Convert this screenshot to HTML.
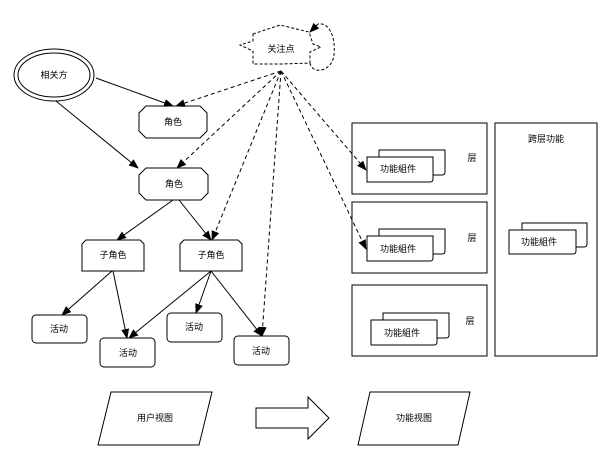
<!DOCTYPE html>
<html><head><meta charset="utf-8"><style>
html,body{margin:0;padding:0;background:#fff;}
svg{display:block;font-family:"Liberation Sans","Noto Sans CJK SC",sans-serif;}
text{font-size:9px;text-anchor:middle;dominant-baseline:central;fill:#000;}
</style></head><body>
<svg width="610" height="461" viewBox="0 0 610 461">
<defs>
<marker id="a" markerWidth="10" markerHeight="8" refX="9" refY="4" orient="auto" markerUnits="userSpaceOnUse"><path d="M0,0 L10,4 L0,8 z" fill="#000"/></marker>
</defs>
<g fill="#fff" stroke="#000" stroke-width="1">
<!-- star -->
<path d="M253,34 L280,25 L309,32 L313,44 L321,47 L310,52 L310,63 L282,64 L253,64 L253,51 L240,45 L253,41 Z" stroke-dasharray="3,2"/>
<path d="M310,63 C312,75 332,72 334,55 C336,35 328,22 318,24" fill="none" stroke-dasharray="3,2"/>
<path d="M318,24 L310,32" fill="none" marker-end="url(#a)"/>
<!-- ellipse -->
<ellipse cx="54" cy="75" rx="40" ry="26"/>
<ellipse cx="54" cy="75" rx="36" ry="22"/>
<!-- octagons -->
<path d="M146,106 L200,106 L207,113 L207,131 L200,138 L146,138 L139,131 L139,113 Z"/>
<path d="M146,168 L201,168 L208,175 L208,193 L201,200 L146,200 L139,193 L139,175 Z"/>
<!-- sub roles -->
<path d="M86,240 L140,240 L144,244 L144,271 L82,271 L82,244 Z"/>
<path d="M184,240 L238,240 L242,244 L242,271 L180,271 L180,244 Z"/>
<!-- activities -->
<rect x="32" y="315" width="55" height="28" rx="4"/>
<rect x="100" y="338" width="55" height="29" rx="4"/>
<rect x="167" y="313" width="55" height="29" rx="4"/>
<rect x="234" y="336" width="55" height="29" rx="4"/>
<!-- parallelograms -->
<path d="M111,392 L212,392 L199,445 L98,445 Z"/>
<path d="M370,392 L470,392 L458,445 L358,445 Z"/>
<!-- big arrow -->
<path d="M256,408 L308,408 L308,397 L329,418 L308,439 L308,428 L256,428 Z"/>
<!-- layers -->
<rect x="352" y="123" width="135" height="71"/>
<rect x="352" y="202" width="135" height="71"/>
<rect x="352" y="285" width="135" height="71"/>
<rect x="495" y="123" width="102" height="233"/>
<!-- components -->
<path d="M379,150 L445,150 L445,172 Q445,175 442,175 L433,175 L433,157 L379,157 Z"/>
<path d="M367,157 L433,157 L433,179 Q433,182 430,182 L367,182 Z"/>
<path d="M379,229 L445,229 L445,251 Q445,254 442,254 L433,254 L433,236 L379,236 Z"/>
<path d="M367,236 L433,236 L433,258 Q433,261 430,261 L367,261 Z"/>
<path d="M383,313 L449,313 L449,335 Q449,338 446,338 L437,338 L437,320 L383,320 Z"/>
<path d="M371,320 L437,320 L437,342 Q437,345 434,345 L371,345 Z"/>
<path d="M522,223 L587,223 L587,244 Q587,247 584,247 L576,247 L576,230 L522,230 Z"/>
<path d="M509,230 L576,230 L576,251 Q576,254 573,254 L509,254 Z"/>
</g>
<g stroke="#000" fill="none" marker-end="url(#a)">
<line x1="96" y1="78" x2="173" y2="106"/>
<line x1="56" y1="101" x2="138" y2="168"/>
<line x1="173" y1="200" x2="117" y2="240"/>
<line x1="179" y1="200" x2="211" y2="240"/>
<line x1="112" y1="271" x2="62" y2="315"/>
<line x1="113" y1="271" x2="127" y2="338"/>
<line x1="211" y1="271" x2="129" y2="338"/>
<line x1="211" y1="271" x2="196" y2="313"/>
<line x1="211" y1="271" x2="262" y2="336"/>
</g>
<g stroke="#000" fill="none" stroke-dasharray="4,3" marker-end="url(#a)">
<line x1="281" y1="71" x2="176" y2="106"/>
<line x1="281" y1="71" x2="177" y2="168"/>
<line x1="281" y1="71" x2="212" y2="240"/>
<line x1="281" y1="71" x2="262" y2="336"/>
<line x1="281" y1="71" x2="366" y2="170"/>
<line x1="281" y1="71" x2="366" y2="249"/>
</g>
<text x="281" y="49">关注点</text>
<text x="54" y="75">相关方</text>
<text x="173" y="122">角色</text>
<text x="174" y="184">角色</text>
<text x="113" y="255">子角色</text>
<text x="211" y="255">子角色</text>
<text x="59" y="329">活动</text>
<text x="128" y="353">活动</text>
<text x="194" y="327">活动</text>
<text x="261" y="351">活动</text>
<text x="155" y="418">用户视图</text>
<text x="414" y="418">功能视图</text>
<text x="398" y="169">功能組件</text>
<text x="398" y="249">功能組件</text>
<text x="402" y="333">功能組件</text>
<text x="539" y="242">功能組件</text>
<text x="472" y="158">层</text>
<text x="472" y="238">层</text>
<text x="470" y="321">层</text>
<text x="546" y="139">跨层功能</text>
</svg>
</body></html>
